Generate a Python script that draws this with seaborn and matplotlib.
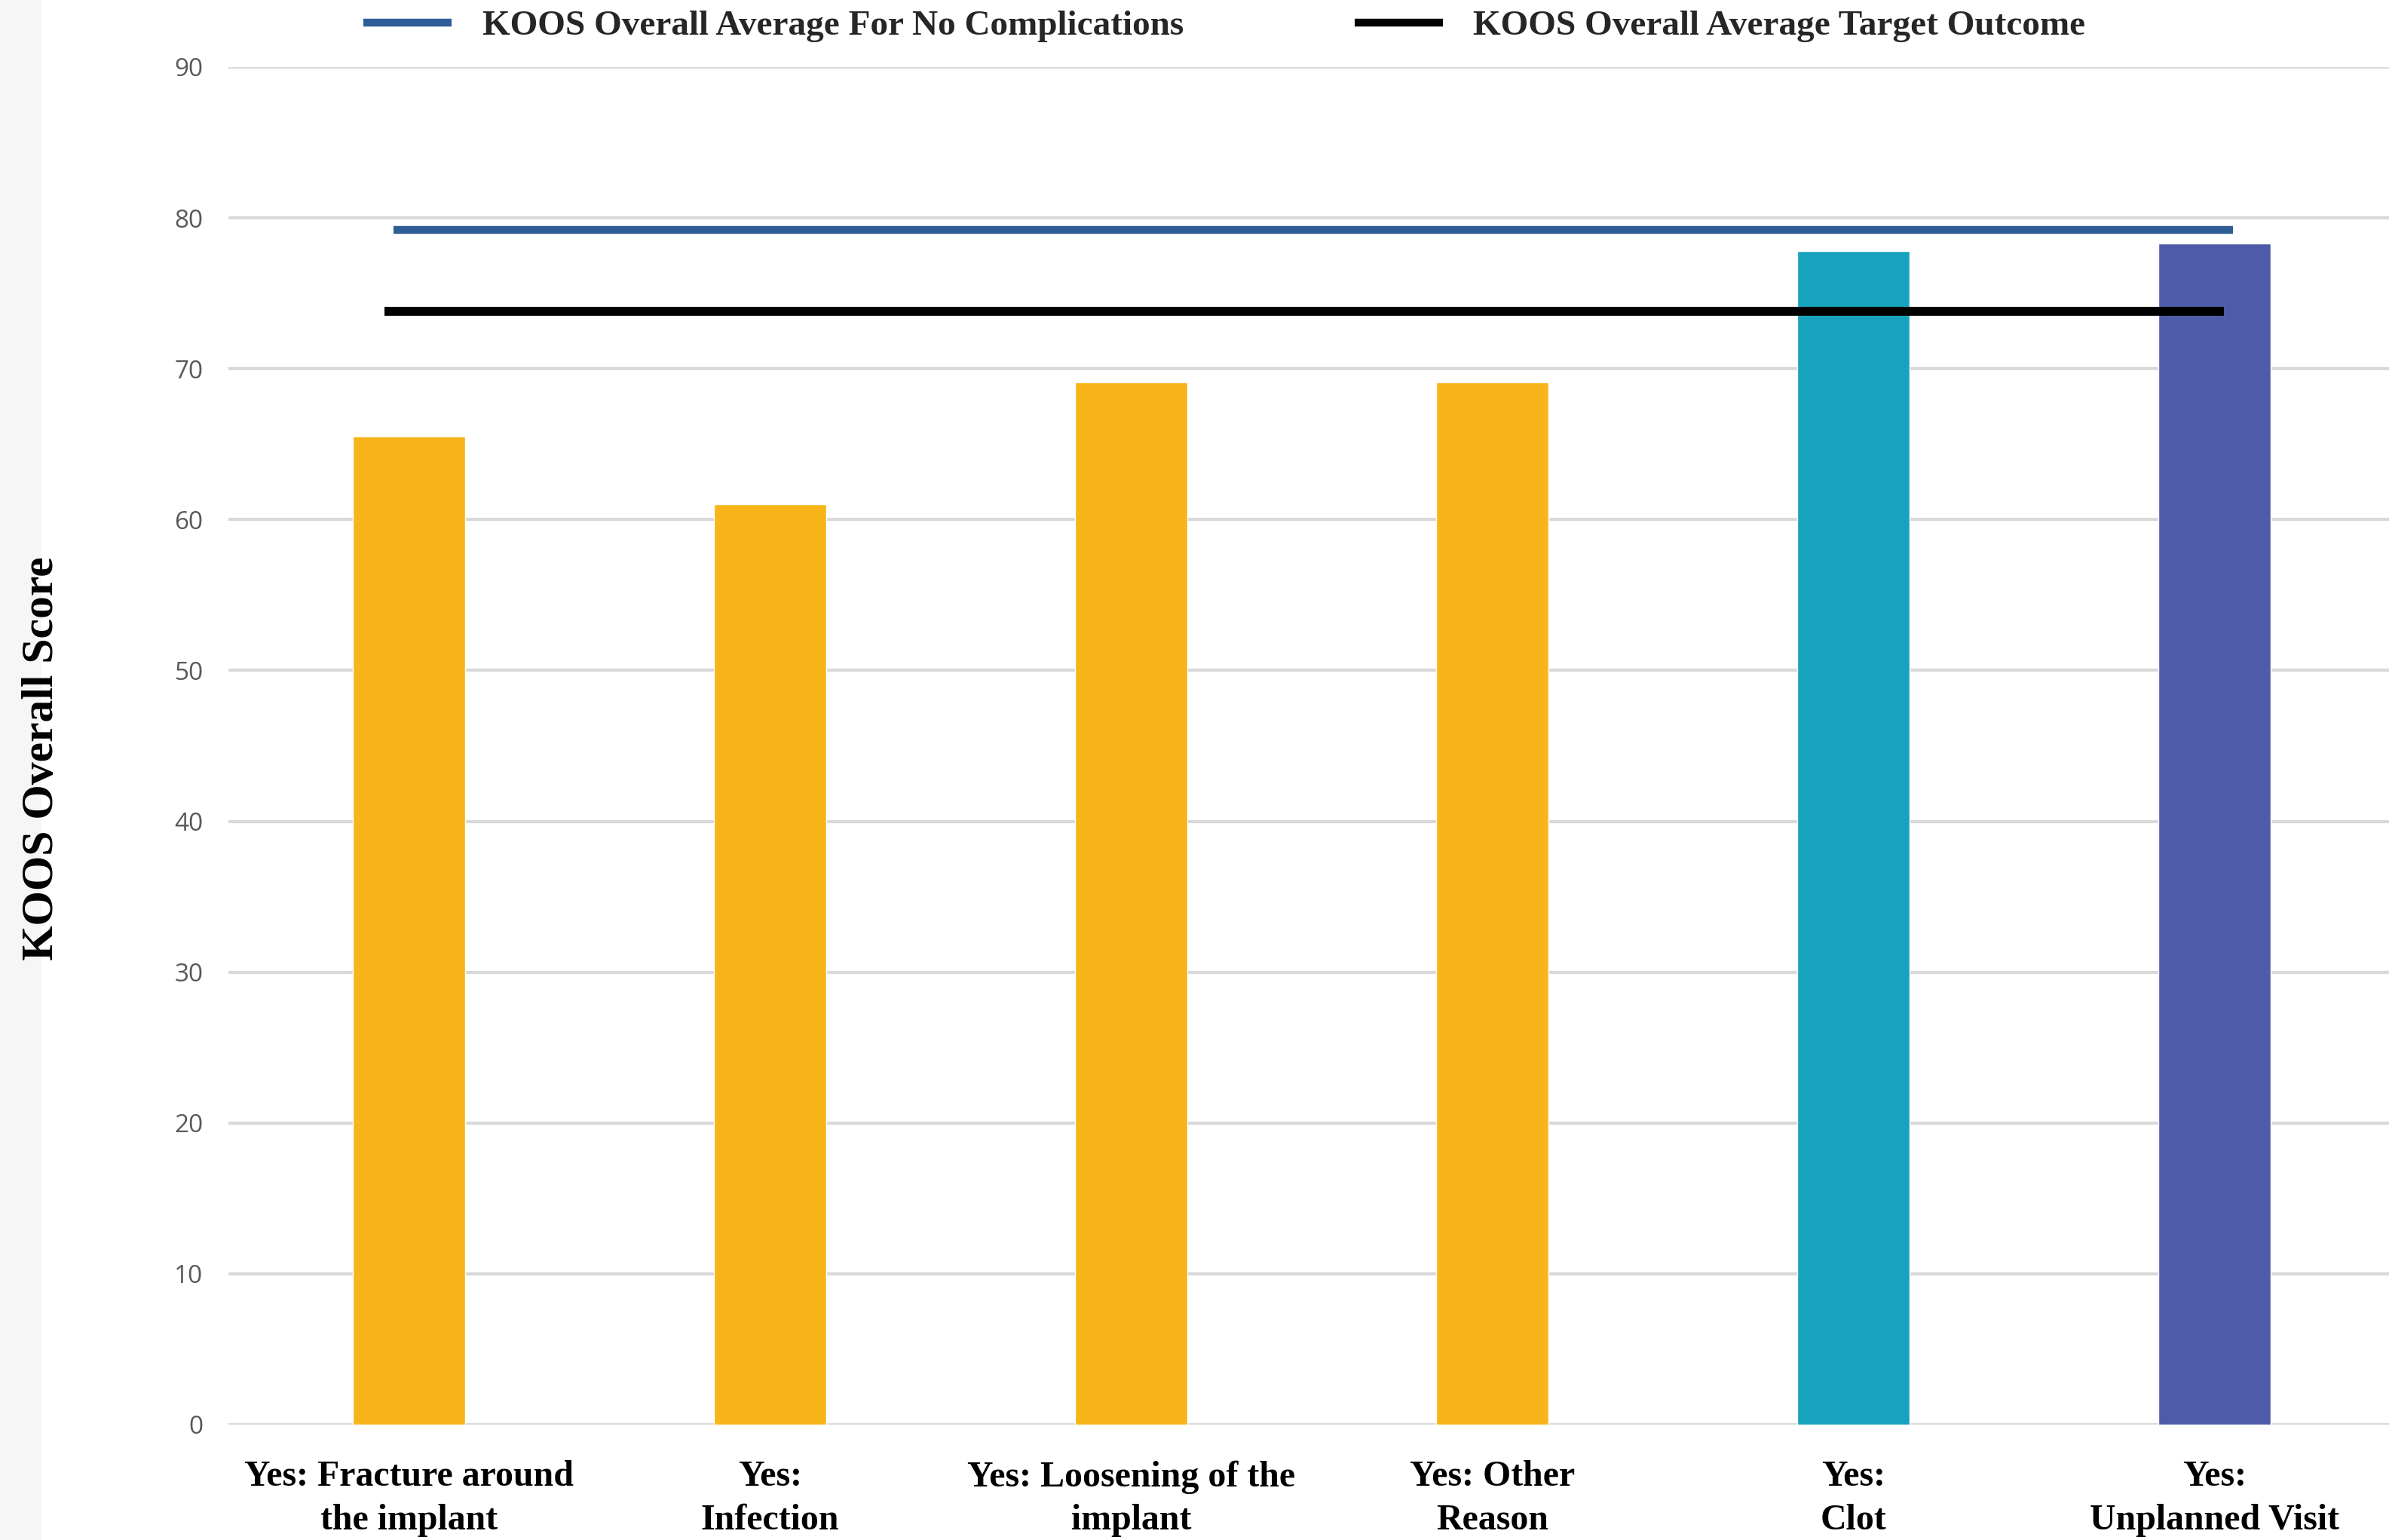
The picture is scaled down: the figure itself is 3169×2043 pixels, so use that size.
import matplotlib
matplotlib.use("Agg")
import matplotlib.pyplot as plt
import matplotlib.patches as mpatches
from matplotlib.lines import Line2D
import seaborn as sns
import pandas as pd

# Categories (x tick labels) and KOOS overall scores per complication
categories = [
    "Yes: Fracture around\nthe implant",
    "Yes:\nInfection",
    "Yes: Loosening of the\nimplant",
    "Yes: Other\nReason",
    "Yes:\nClot",
    "Yes:\nUnplanned Visit",
]
scores = [65.5, 61.0, 69.1, 69.1, 77.8, 78.3]
bar_colors = ["#F8B51A", "#F8B51A", "#F8B51A", "#F8B51A", "#17A2BE", "#4E5BA8"]

# Reference averages
no_complication_avg = 79.2
target_outcome_avg = 73.8
no_complication_label = "KOOS Overall Average For No Complications"
target_outcome_label = "KOOS Overall Average Target Outcome"

y_ticks = [0, 10, 20, 30, 40, 50, 60, 70, 80, 90]

df = pd.DataFrame({"category": categories, "score": scores})

sns.set_theme(style="white")
serif = ["Liberation Serif", "DejaVu Serif"]
sans = ["Open Sans", "DejaVu Sans"]

fig = plt.figure(figsize=(31.69, 20.43), dpi=100)
fig.patch.set_facecolor("white")

# Light side strip on the far left
fig.add_artist(mpatches.Rectangle((0, 0), 55 / 3169, 1, transform=fig.transFigure,
                                  facecolor="#f6f6f6", edgecolor="none", zorder=0))

ax = fig.add_axes([303 / 3169, 153 / 2043, 1 - 303 / 3169, (1954 - 153) / 2043])
ax.set_facecolor("none")

sns.barplot(data=df, x="category", y="score", hue="category",
            palette=bar_colors, width=0.312, legend=False, ax=ax,
            saturation=1, zorder=3)

# Horizontal reference lines across the categories
ax.plot([-0.042, 5.05], [no_complication_avg, no_complication_avg],
        color="#2F5D95", lw=7.5, solid_capstyle="butt", zorder=4)
ax.plot([-0.068, 5.025], [target_outcome_avg, target_outcome_avg],
        color="black", lw=8.5, solid_capstyle="butt", zorder=4)

ax.set_xlim(-0.5, 5.483)
ax.set_ylim(0, 90)
ax.set_yticks(y_ticks)
ax.yaxis.grid(True, color="#d9d9d9", lw=3, zorder=0)
ax.xaxis.grid(False)
for s in ax.spines.values():
    s.set_visible(False)

ax.tick_params(axis="y", length=0, pad=24, labelsize=24, labelcolor="#595959")
ax.tick_params(axis="x", length=0, pad=34)
for lab in ax.get_yticklabels():
    lab.set_family(sans)
ax.set_xticks(range(len(categories)))
ax.set_xticklabels(categories, fontfamily=serif, fontweight="bold",
                   fontsize=34.5, color="black", linespacing=1.4)

ax.set_xlabel("")
ax.set_ylabel("KOOS Overall Score", fontfamily=serif, fontweight="bold",
              fontsize=43, color="black")
ax.yaxis.set_label_coords(-0.0767, 0.491)

handles = [
    Line2D([0], [0], color="#2F5D95", lw=7.5, solid_capstyle="butt"),
    Line2D([0], [0], color="black", lw=7.5, solid_capstyle="butt"),
]
fig.legend(handles, [no_complication_label, target_outcome_label],
           loc="center", bbox_to_anchor=(0.5125, 0.983), ncol=2, frameon=False,
           prop={"family": serif, "weight": "bold", "size": 34},
           handlelength=2.48, handletextpad=0.85, columnspacing=4.8)

fig.savefig("out.png", dpi=100, facecolor="white")
